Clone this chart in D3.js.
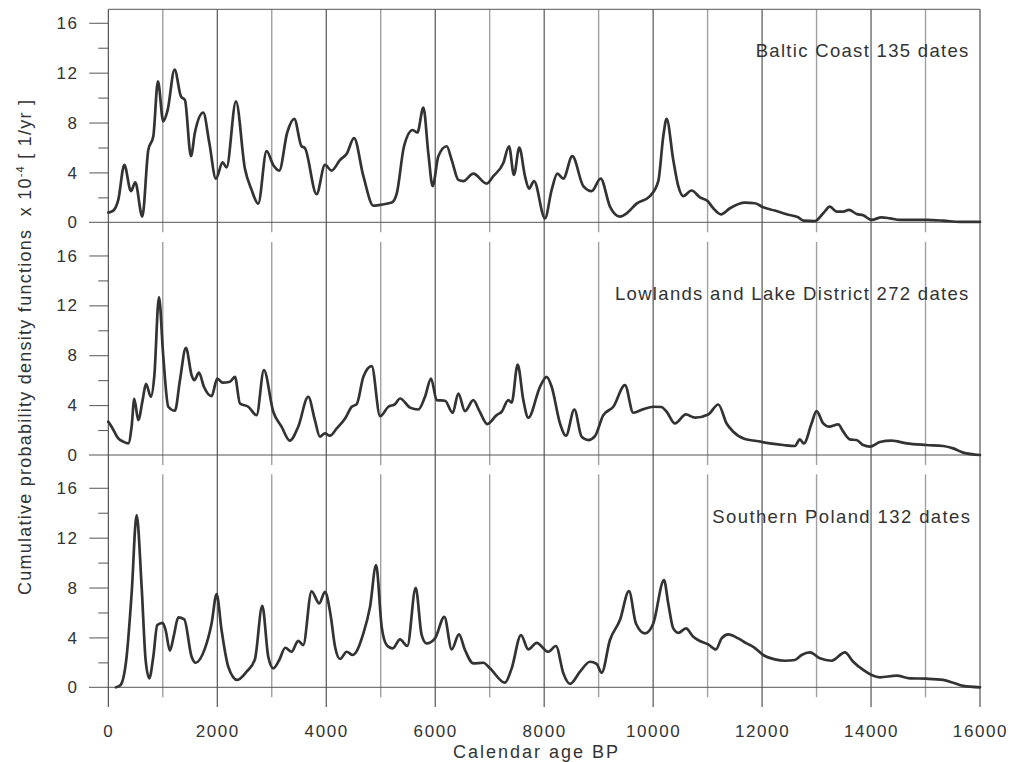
<!DOCTYPE html>
<html><head><meta charset="utf-8">
<script src="https://cdn.jsdelivr.net/npm/d3@7"></script>
<style>
body{margin:0;background:#fff}
svg{display:block;font-family:"Liberation Sans",Arial,Helvetica,sans-serif}
text{white-space:pre}
</style>
</head><body>
<svg id="chart" width="1010" height="762"></svg>
<script>
// ---------- data ----------
const xTickValues = [0, 2000, 4000, 6000, 8000, 10000, 12000, 14000, 16000];
const oddGridValues = [1000, 3000, 5000, 7000, 9000, 11000, 13000, 15000];
const yMajorTicks = [0, 4, 8, 12, 16];
const yMinorTicks = [2, 6, 10, 14];
const panelNames = ["Baltic Coast 135 dates", "Lowlands and Lake District 272 dates", "Southern Poland 132 dates"];
const xTitle = "Calendar age BP";

const baltic = [[0,0.78],[92,0.94],[183,1.8],[294,4.6],[416,2.5],[495,3.2],[624,0.46],[734,5.8],[826,6.9],[911,11.3],[1009,8.1],[1089,9.0],[1217,12.25],[1333,10.1],[1407,9.8],[1517,5.3],[1590,7.2],[1743,8.8],[1853,6.4],[1975,3.5],[2098,4.8],[2171,4.4],[2343,9.7],[2508,4.3],[2630,2.6],[2752,1.5],[2905,5.7],[3027,4.6],[3138,4.15],[3284,7.2],[3413,8.3],[3547,6.1],[3609,5.95],[3823,2.25],[3976,4.6],[4098,4.15],[4254,5.0],[4376,5.5],[4511,6.75],[4682,3.7],[4865,1.34],[4988,1.4],[5202,1.58],[5294,2.3],[5428,6.1],[5587,7.4],[5673,7.2],[5783,9.2],[5875,5.5],[5954,2.9],[6058,5.3],[6211,6.1],[6303,5.0],[6425,3.4],[6517,3.3],[6700,3.9],[6945,3.1],[7067,3.7],[7251,4.75],[7355,6.1],[7446,3.8],[7544,6.0],[7648,3.7],[7722,2.7],[7814,3.3],[8015,0.32],[8138,2.6],[8242,3.9],[8352,3.5],[8517,5.3],[8719,2.9],[8872,2.5],[9037,3.5],[9208,1.26],[9391,0.46],[9514,0.72],[9697,1.5],[9942,2.1],[10095,3.3],[10187,6.9],[10248,8.3],[10370,5.0],[10462,2.9],[10554,2.1],[10706,2.55],[10859,2.0],[11000,1.7],[11104,1.13],[11245,0.64],[11410,1.13],[11685,1.58],[11869,1.53],[12021,1.2],[12235,0.94],[12450,0.64],[12663,0.4],[12755,0.13],[12969,0.1],[13122,0.72],[13245,1.26],[13367,0.86],[13490,0.86],[13593,1.0],[13734,0.67],[13856,0.56],[14009,0.19],[14193,0.4],[14346,0.32],[14529,0.19],[15018,0.19],[15324,0.13],[15630,0.03],[16000,0.03]];

const lowlands = [[0,2.67],[61,2.27],[183,1.33],[275,1.07],[367,0.93],[428,2.27],[477,4.5],[550,2.8],[630,4.4],[691,5.7],[783,4.67],[844,6.3],[930,12.67],[1009,7.9],[1101,3.87],[1223,3.55],[1315,6.0],[1425,8.6],[1529,6.4],[1578,6.0],[1664,6.6],[1755,5.47],[1896,4.72],[2000,6.13],[2098,5.8],[2232,5.87],[2324,6.27],[2416,4.13],[2569,3.87],[2722,3.2],[2856,6.8],[3028,3.47],[3180,2.27],[3333,1.15],[3486,2.27],[3670,4.67],[3792,2.8],[3884,1.47],[3976,1.73],[4067,1.55],[4193,2.13],[4346,2.93],[4468,3.87],[4560,4.08],[4682,6.27],[4835,7.12],[4988,3.12],[5141,3.87],[5263,4.08],[5355,4.53],[5538,3.8],[5691,3.65],[5813,4.67],[5924,6.13],[6028,4.4],[6180,4.35],[6321,3.39],[6425,4.93],[6547,3.52],[6700,4.4],[6804,3.6],[6957,2.48],[7128,3.2],[7220,3.47],[7343,4.4],[7404,4.2],[7514,7.25],[7618,4.4],[7709,2.99],[7924,5.47],[8046,6.27],[8138,5.47],[8291,2.53],[8401,1.55],[8554,3.65],[8688,1.47],[8810,1.2],[8933,1.52],[9086,3.2],[9269,3.87],[9483,5.6],[9636,3.39],[9820,3.68],[10003,3.87],[10150,3.85],[10248,3.47],[10401,2.53],[10603,3.25],[10768,2.99],[11012,3.25],[11196,4.05],[11349,2.53],[11471,1.87],[11685,1.28],[11899,1.12],[12144,0.93],[12388,0.8],[12602,0.72],[12694,1.25],[12767,0.93],[12908,2.53],[13000,3.52],[13122,2.53],[13232,2.27],[13398,2.45],[13490,1.87],[13612,1.25],[13734,1.2],[13856,0.8],[13979,0.67],[14162,1.04],[14376,1.15],[14651,0.93],[15018,0.8],[15324,0.72],[15508,0.53],[15691,0.19],[16000,0.0]];

const southern = [[140,0],[226,0.19],[336,2.45],[428,7.5],[520,13.8],[612,8.05],[685,2.19],[752,0.72],[826,2.45],[899,4.99],[997,5.17],[1052,4.59],[1131,2.93],[1205,4.19],[1284,5.6],[1394,5.44],[1529,2.45],[1602,1.97],[1774,3.12],[1896,5.12],[1988,7.47],[2079,4.59],[2202,1.65],[2367,0.59],[2538,1.25],[2691,2.24],[2826,6.53],[2936,2.45],[3028,1.52],[3138,2.19],[3248,3.17],[3364,2.85],[3486,3.73],[3578,3.39],[3731,7.7],[3872,6.72],[3976,7.65],[4080,5.8],[4162,3.25],[4254,2.27],[4376,2.85],[4486,2.59],[4682,4.32],[4804,6.45],[4915,9.79],[5018,4.85],[5110,3.39],[5220,3.12],[5355,3.84],[5489,3.31],[5642,7.97],[5752,4.19],[5844,3.52],[5997,3.92],[6168,5.65],[6303,3.04],[6437,4.24],[6547,2.99],[6700,1.92],[6884,1.97],[7006,1.52],[7281,0.37],[7404,1.52],[7575,4.19],[7709,3.04],[7862,3.57],[8076,2.85],[8217,3.31],[8352,1.12],[8474,0.27],[8658,1.25],[8841,2.05],[8963,1.87],[9055,1.17],[9208,3.79],[9391,5.39],[9557,7.71],[9685,5.12],[9850,4.32],[10003,5.12],[10200,8.59],[10278,6.72],[10370,4.72],[10462,4.37],[10603,4.72],[10737,4.05],[10859,3.71],[11012,3.44],[11153,3.04],[11257,3.92],[11379,4.24],[11563,3.92],[11716,3.52],[11838,3.25],[12021,2.59],[12235,2.24],[12419,2.13],[12602,2.19],[12725,2.59],[12878,2.8],[13061,2.32],[13275,2.13],[13520,2.8],[13673,2.05],[13856,1.39],[14009,0.99],[14162,0.8],[14468,0.93],[14713,0.72],[15018,0.69],[15324,0.59],[15508,0.37],[15691,0.11],[16000,0]];

const seriesList = [baltic, lowlands, southern];

// ---------- layout ----------
const svg = d3.select("#chart");
const left = 108.3, right = 980;
const panelTops = [9.3, 242, 474.3];
const panelH = 213;
const unitPx = 12.47;
const axisBottom = 707;
const labelPos = [{x:755.7, w:212.6, y:57.3},{x:615, w:353.3, y:300},{x:712.3, w:257.7, y:523.3}];

const x = d3.scaleLinear().domain([0,16000]).range([left,right]);

function fitText(sel, target){
  const node = sel.node();
  const n = node.getNumberOfChars();
  const w = node.getComputedTextLength();
  const ls = (target - w) / (n - 1);
  sel.attr("letter-spacing", ls);
}

const grid = svg.append("g");
const panelsG = svg.append("g");

panelTops.forEach((top, i) => {
  const y = d3.scaleLinear().domain([0, panelH/unitPx]).range([top+panelH, top]);
  const zeroY = y(0);
  const g = panelsG.append("g");
  // odd-thousand gray gridlines within panel
  grid.selectAll(null).data(oddGridValues).enter().append("line")
    .attr("x1", d=>x(d)).attr("x2", d=>x(d))
    .attr("y1", top).attr("y2", zeroY+10)
    .attr("stroke", "#a0a0a0").attr("stroke-width", 1.4);
  // zero line (extends like a major tick)
  g.append("line").attr("x1", 89).attr("x2", right).attr("y1", zeroY).attr("y2", zeroY)
    .attr("stroke", "#555").attr("stroke-width", 1);
  // y axis ticks
  const yAxis = d3.axisLeft(y).tickValues(yMajorTicks.filter(v=>v>0)).tickSize(19).tickFormat("");
  const ga = g.append("g").attr("transform", `translate(${left},0)`).call(yAxis);
  ga.select(".domain").remove();
  ga.selectAll("line").attr("stroke", "#555");
  const yAxisMinor = d3.axisLeft(y).tickValues(yMinorTicks).tickSize(10).tickFormat("");
  const gm = g.append("g").attr("transform", `translate(${left},0)`).call(yAxisMinor);
  gm.select(".domain").remove();
  gm.selectAll("line").attr("stroke", "#555");
  // tick labels
  g.selectAll(null).data(yMajorTicks).enter().append("text")
    .attr("x", 78.5).attr("y", d=>y(d)).attr("dy", "0.36em")
    .attr("text-anchor", "end").attr("font-size", 17).attr("letter-spacing", 1.5)
    .attr("fill", "#333").text(d=>d);
  // curve
  const line = d3.line().x(d=>x(d[0])).y(d=>y(d[1])).curve(d3.curveMonotoneX);
  g.append("path").datum(seriesList[i]).attr("d", line)
    .attr("fill", "none").attr("stroke", "#333").attr("stroke-width", 2.7)
    .attr("stroke-linejoin", "round").attr("stroke-linecap", "round");
  // label
  const lp = labelPos[i];
  const t = g.append("text").attr("x", lp.x).attr("y", lp.y)
    .attr("font-size", 18.5).attr("fill", "#333").text(panelNames[i]);
  fitText(t, lp.w);
});

// even-thousand dark lines spanning the whole figure + left axis
grid.selectAll(null).data(xTickValues).enter().append("line")
  .attr("x1", d=>x(d)).attr("x2", d=>x(d))
  .attr("y1", panelTops[0]).attr("y2", axisBottom)
  .attr("stroke", "#333").attr("stroke-width", 1);
// top border
grid.append("line").attr("x1", left).attr("x2", right).attr("y1", panelTops[0]).attr("y2", panelTops[0])
  .attr("stroke", "#555").attr("stroke-width", 1);

// x tick labels
const xAxisG = svg.append("g").attr("transform", `translate(0,${axisBottom})`)
  .call(d3.axisBottom(x).tickValues(xTickValues).tickSize(0).tickPadding(0).tickFormat(d3.format("d")));
xAxisG.select(".domain").remove();
xAxisG.selectAll("text").attr("y", 30).attr("dy", 0).attr("font-size", 17)
  .attr("font-family", null).attr("letter-spacing", 1.6).attr("fill", "#333");

// x title
const xt = svg.append("text").attr("x", 453).attr("y", 758).attr("font-size", 18)
  .attr("fill", "#333").text(xTitle);
fitText(xt, 165);

// y title
const yt = svg.append("text").attr("transform", "translate(31,595) rotate(-90)")
  .attr("x", 0).attr("y", 0).attr("font-size", 18).attr("fill", "#333");
yt.append("tspan").text("Cumulative probability density functions  x 10");
yt.append("tspan").attr("dy", -7).attr("font-size", 11).text("-4");
yt.append("tspan").attr("dy", 7).text(" [ 1/yr ]");
fitText(yt, 495);
</script>
</body></html>
